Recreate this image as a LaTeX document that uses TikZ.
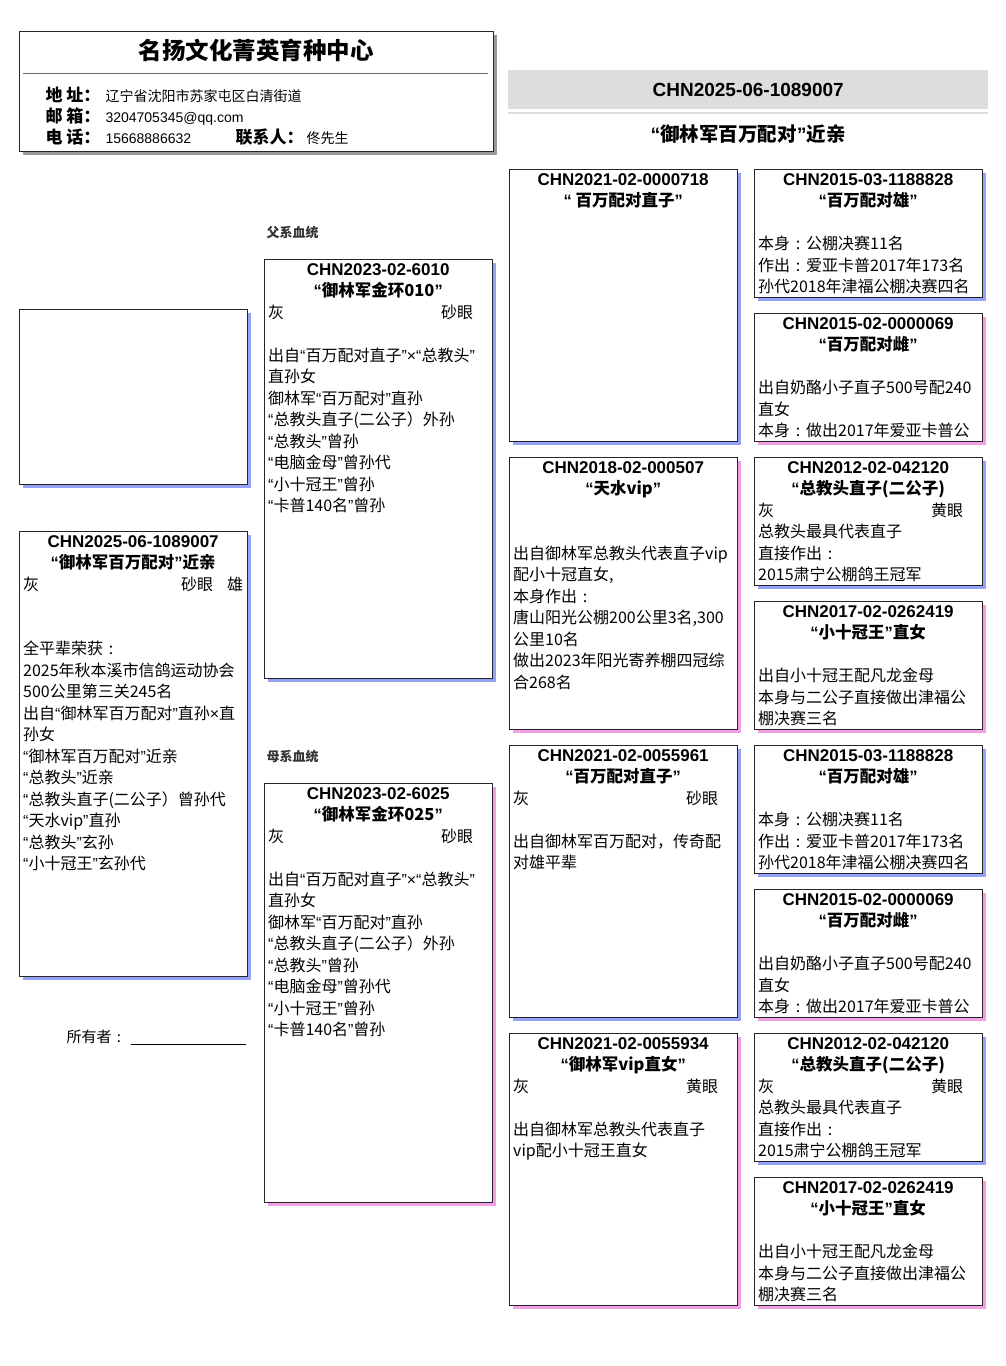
\documentclass[tikz,border=0pt]{standalone}
\usepackage{fontspec}
\setmainfont{Noto Sans CJK SC}
\newfontfamily\latin{Liberation Sans}
\usepackage{xcolor}
\usepackage{tikz}
\usetikzlibrary{positioning,calc,shadows}
\definecolor{cockshadow}{RGB}{148,163,246}
\definecolor{henshadow}{RGB}{243,160,230}
\definecolor{bargray}{RGB}{221,221,221}
\newcommand{\Q}[1]{{\latin “}#1{\latin ”}}
\newcommand{\cn}{\makebox[1em]{:}}
\newcommand{\RingLine}[2]{%
  \makebox[220pt]{\latin\bfseries\fontsize{17}{21.5}\selectfont #1}\\
  \makebox[220pt]{\bfseries\fontsize{16.5}{21.5}\selectfont #2}}
\newcommand{\EyeLine}[2]{\makebox[220pt][l]{#1\hfill #2}}
\newcommand{\PedBox}[5]{%
  \node[pedbox, minimum height=#3, #4] (#1) at #2 {};
  \node[pedtext] (#1-text) at ($(#1.north west)+(4pt,-4pt)$) {#5};
}
% texts that come back in the fourth generation
\newcommand{\MillionCockText}{\RingLine{CHN2015-03-1188828}{\Q{百万配对雄}}\\ \mbox{}\\
  本身\cn 公棚决赛11名\\ 作出\cn 爱亚卡普2017年173名\\ 孙代2018年津福公棚决赛四名}
\newcommand{\MillionHenText}{\RingLine{CHN2015-02-0000069}{\Q{百万配对雌}}\\ \mbox{}\\
  出自奶酪小子直子500号配240\\ 直女\\ 本身\cn 做出2017年爱亚卡普公}
\newcommand{\CoachSonText}{\RingLine{CHN2012-02-042120}{{\latin “}总教头直子(二公子)}\\
  \EyeLine{灰}{黄眼\hspace{15pt}}\\ 总教头最具代表直子\\ 直接作出\cn\\ 2015肃宁公棚鸽王冠军}
\newcommand{\LittleKingText}{\RingLine{CHN2017-02-0262419}{\Q{小十冠王}直女}\\ \mbox{}\\
  出自小十冠王配凡龙金母\\ 本身与二公子直接做出津福公\\ 棚决赛三名}
\newcommand{\GoldRingBody}{%
  出自\Q{百万配对直子}{\latin ×}\Q{总教头}\\ 直孙女\\ 御林军\Q{百万配对}直孙\\
  {\latin “}总教头直子(二公子）外孙\\ \Q{总教头}曾孙\\ \Q{电脑金母}曾孙代\\
  \Q{小十冠王}曾孙\\ \Q{卡普140名}曾孙}

\begin{document}
\begin{tikzpicture}[x=1pt, y=-1pt,
  pedbox/.style={draw=black!85, fill=white, line width=0.8pt, minimum width=228pt,
    anchor=north west, inner sep=0pt},
  cockbox/.style={drop shadow={fill=cockshadow, opacity=1, shadow xshift=4pt, shadow yshift=-4pt}},
  henbox/.style={drop shadow={fill=henshadow, opacity=1, shadow xshift=4pt, shadow yshift=-4pt}},
  pedtext/.style={anchor=north west, inner sep=0pt, align=left, font=\fontsize{16}{21.5}\selectfont},
  infolabel/.style={anchor=base west, font=\bfseries\fontsize{17}{21}\selectfont},
  sidelabel/.style={anchor=west, text=black!80, font=\bfseries\fontsize{13}{15}\selectfont}]
  \fill[white] (0,0) rectangle (1006,1366);
  \useasboundingbox (0,0) rectangle (1006,1366);

  % farm card
  \node[draw=black!85, fill=white, line width=0.8pt, minimum width=474pt, minimum height=120pt,
    anchor=north west, drop shadow={fill=black!40, opacity=1, shadow xshift=4pt, shadow yshift=-4pt}]
    (farm) at (19,31) {};
  \node[font=\bfseries\fontsize{23.5}{28}\selectfont] (farm-title) at (256,50) {名扬文化菁英育种中心};
  \draw[black!60] ([shift={(4pt,-42.5pt)}]farm.north west) -- ([shift={(-6pt,-42.5pt)}]farm.north east);
  \node[infolabel] (addr) at (42,101.5)
    {\makebox[60pt][l]{地 址：}{\mdseries\fontsize{14}{21}\selectfont 辽宁省沈阳市苏家屯区白清街道}};
  \node[infolabel] (mail) at (42,122.5)
    {\makebox[60pt][l]{邮 箱：}{\latin\mdseries\fontsize{14}{21}\selectfont 3204705345@qq.com}};
  \node[infolabel] (phone) at (42,143.5)
    {\makebox[60pt][l]{电 话：}\makebox[130pt][l]{\latin\mdseries\fontsize{14}{21}\selectfont 15668886632}%
     联系人：\hspace{3pt}{\mdseries\fontsize{14}{21}\selectfont 佟先生}};

  % ring number bar
  \node[fill=bargray, minimum width=480pt, minimum height=39pt, anchor=north west,
    font=\latin\bfseries\fontsize{19}{23}\selectfont] (ringbar) at (508,70) {CHN2025-06-1089007};
  \draw[bargray, line width=2pt] ([yshift=-3.5pt]ringbar.south west) -- ([yshift=-3.5pt]ringbar.south east);
  \node[font=\bfseries\fontsize{19.5}{24}\selectfont] (bird-title) at (748,134) {\Q{御林军百万配对}近亲};

  % the bird itself
  \node[pedbox, minimum height=175pt, cockbox] (photo) at (19,309) {};
  \PedBox{bird}{(19,531)}{445pt}{cockbox}{\RingLine{CHN2025-06-1089007}{\Q{御林军百万配对}近亲}\\
    \EyeLine{灰}{砂眼\hspace{14pt}雄}\\ \mbox{}\\ \mbox{}\\
    全平辈荣获\cn\\ 2025年秋本溪市信鸽运动协会\\ 500公里第三关245名\\
    出自\Q{御林军百万配对}直孙{\latin ×}直\\ 孙女\\ \Q{御林军百万配对}近亲\\ \Q{总教头}近亲\\
    {\latin “}总教头直子(二公子）曾孙代\\ \Q{天水vip}直孙\\ \Q{总教头}玄孙\\ \Q{小十冠王}玄孙代}
  \node[anchor=west, font=\fontsize{15}{18}\selectfont] (owner) at (63,1037)
    {所有者\cn\hspace{4pt}\underline{\hspace{115pt}}};

  % parents
  \node[sidelabel] (sire-label) at (263,233) {父系血统};
  \PedBox{sire}{(264,259)}{419pt}{cockbox}{\RingLine{CHN2023-02-6010}{\Q{御林军金环010}}\\
    \EyeLine{灰}{砂眼\hspace{15pt}}\\ \mbox{}\\ \GoldRingBody}
  \node[sidelabel] (dam-label) at (263,757) {母系血统};
  \PedBox{dam}{(264,783)}{419pt}{henbox}{\RingLine{CHN2023-02-6025}{\Q{御林军金环025}}\\
    \EyeLine{灰}{砂眼\hspace{15pt}}\\ \mbox{}\\ \GoldRingBody}

  % grandparents
  \PedBox{ss}{(509,169)}{272pt}{cockbox}{\RingLine{CHN2021-02-0000718}{{\latin “} 百万配对直子{\latin ”}}}
  \PedBox{sd}{(509,457)}{272pt}{henbox}{\RingLine{CHN2018-02-000507}{\Q{天水vip}}\\ \mbox{}\\ \mbox{}\\
    出自御林军总教头代表直子vip\\ 配小十冠直女,\\ 本身作出\cn\\ 唐山阳光公棚200公里3名,300\\
    公里10名\\ 做出2023年阳光寄养棚四冠综\\ 合268名}
  \PedBox{ds}{(509,745)}{272pt}{cockbox}{\RingLine{CHN2021-02-0055961}{\Q{百万配对直子}}\\
    \EyeLine{灰}{砂眼\hspace{15pt}}\\ \mbox{}\\ 出自御林军百万配对，传奇配\\ 对雄平辈}
  \PedBox{dd}{(509,1033)}{272pt}{henbox}{\RingLine{CHN2021-02-0055934}{\Q{御林军vip直女}}\\
    \EyeLine{灰}{黄眼\hspace{15pt}}\\ \mbox{}\\ 出自御林军总教头代表直子\\ vip配小十冠王直女}

  % great-grandparents
  \PedBox{sss}{(754,169)}{128pt}{cockbox}{\MillionCockText}
  \PedBox{ssd}{(754,313)}{128pt}{henbox}{\MillionHenText}
  \PedBox{sds}{(754,457)}{128pt}{cockbox}{\CoachSonText}
  \PedBox{sdd}{(754,601)}{128pt}{henbox}{\LittleKingText}
  \PedBox{dss}{(754,745)}{128pt}{cockbox}{\MillionCockText}
  \PedBox{dsd}{(754,889)}{128pt}{henbox}{\MillionHenText}
  \PedBox{dds}{(754,1033)}{128pt}{cockbox}{\CoachSonText}
  \PedBox{ddd}{(754,1177)}{128pt}{henbox}{\LittleKingText}
\end{tikzpicture}
\end{document}
